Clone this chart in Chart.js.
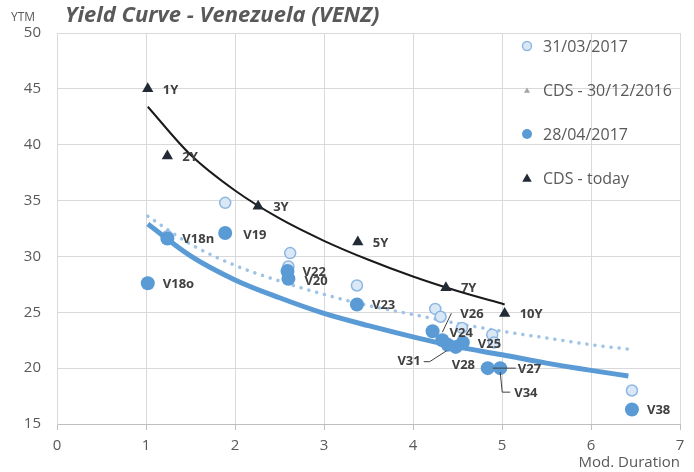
<!DOCTYPE html>
<html>
<head>
<meta charset="utf-8">
<title>Yield Curve - Venezuela (VENZ)</title>
<script src="https://cdn.jsdelivr.net/npm/chart.js@4.4.1/dist/chart.umd.min.js"></script>
<style>
    html, body { margin: 0; padding: 0; background: #fff; }
    #wrap { width: 694px; height: 472px; }
</style>
</head>
<body>
<div id="wrap"><canvas id="yieldChart" width="694" height="472"></canvas></div>
<script>
// Axis ranges / ticks
const xTicks = [0, 1, 2, 3, 4, 5, 6, 7];
const yTicks = [15, 20, 25, 30, 35, 40, 45, 50];

// CDS - today
const cdsTenors = ['1Y', '2Y', '3Y', '5Y', '7Y', '10Y'];
const cdsTodayDur = [1.02, 1.24, 2.26, 3.38, 4.37, 5.03];
const cdsTodayYtm = [45.0, 39.0, 34.5, 31.3, 27.2, 24.9];

// CDS - 30/12/2016 (sits under today's markers)
const cdsOldDur = [1.02, 1.24, 2.26, 3.38, 4.37, 5.03];
const cdsOldYtm = [45.0, 39.0, 34.5, 31.3, 27.2, 24.9];

// Bonds 31/03/2017
const bondsMarDur = [1.24, 1.89, 2.62, 2.60, 3.37, 4.25, 4.31, 4.55, 4.89, 4.91, 6.46];
const bondsMarYtm = [31.8, 34.8, 30.3, 29.1, 27.4, 25.3, 24.6, 23.6, 23.0, 22.3, 18.0];

// Bonds 28/04/2017
const bondNames = ['V18o', 'V18n', 'V19', 'V22', 'V20', 'V23', 'V24', 'V26', 'V31', 'V28', 'V25', 'V27', 'V34', 'V38'];
const bondsAprDur = [1.02, 1.24, 1.89, 2.59, 2.60, 3.37, 4.22, 4.33, 4.39, 4.48, 4.56, 4.84, 4.98, 6.46];
const bondsAprYtm = [27.6, 31.6, 32.1, 28.7, 28.0, 25.7, 23.3, 22.5, 22.1, 21.9, 22.3, 20.0, 20.0, 16.3];

// Trend lines
const cdsTrendDur = [1.02, 1.5, 2, 2.5, 3, 3.5, 4, 4.5, 5.03];
const cdsTrendYtm = [43.4, 39.1, 35.9, 33.4, 31.4, 29.7, 28.2, 26.9, 25.7];
const bondTrendDur = [1.02, 1.5, 2, 2.5, 3, 3.5, 4, 4.5, 5, 5.5, 6, 6.42];
const aprTrendYtm = [32.9, 30.05, 27.9, 26.3, 24.9, 23.8, 22.8, 21.9, 21.2, 20.45, 19.8, 19.3];
const marTrendYtm = [33.6, 31.1, 29.2, 27.8, 26.6, 25.6, 24.8, 24.0, 23.3, 22.7, 22.1, 21.7];

const toPoints = (xs, ys) => xs.map((x, i) => ({ x: x, y: ys[i] }));

const COLORS = {
    text: '#595959',
    label: '#404040',
    grid: '#d9d9d9',
    axis: '#bfbfbf',
    blue: '#5B9BD5',
    lightFill: '#DAE8F6',
    lightBorder: '#8DB7E2',
    dots: '#9DC3E6',
    dark: '#222B35',
    gray: '#A5A5A5'
};
const FONT = '"Open Sans", "Noto Sans", sans-serif';

// label placement next to each point (offsets in px, optional leader line)
const labelPlacement = {
    V19:  { dx: 18, dy: 2 },
    V20:  { dx: 16, dy: 3 },
    V24:  { dx: 17, dy: 2 },
    V26:  { dx: 18, dy: -26, leader: [[0, -8], [9, -27]] },
    V31:  { dx: -27, dy: 17, align: 'right', leader: [[-1, 6], [-18, 17], [-24, 17]] },
    V28:  { dx: -4, dy: 18 },
    V25:  { dx: 15, dy: 2 },
    V27:  { dx: 30, dy: 1, leader: [[5, 0], [28, 0]] },
    V34:  { dx: 14, dy: 25, leader: [[0, 4], [2, 24], [10, 24]] }
};
const defaultPlacement = { dx: 15, dy: 1 };

const labelSets = [
    { names: cdsTenors, dur: cdsTodayDur, ytm: cdsTodayYtm },
    { names: bondNames, dur: bondsAprDur, ytm: bondsAprYtm }
];

const legendItems = [
    { text: '31/03/2017', marker: 'hollow' },
    { text: 'CDS - 30/12/2016', marker: 'smallTri' },
    { text: '28/04/2017', marker: 'dot' },
    { text: 'CDS - today', marker: 'tri' }
];

function drawTriangle(ctx, x, y, r) {
    ctx.beginPath();
    for (let k = 0; k < 3; k++) {
        const a = k * 2 * Math.PI / 3;
        const px = x + Math.sin(a) * r;
        const py = y - Math.cos(a) * r;
        if (k === 0) ctx.moveTo(px, py); else ctx.lineTo(px, py);
    }
    ctx.closePath();
    ctx.fill();
}

const annotatePlugin = {
    id: 'annotate',
    afterDatasetsDraw(chart) {
        const ctx = chart.ctx;
        const xs = chart.scales.x;
        const ys = chart.scales.y;
        ctx.save();
        ctx.font = 'bold 13px ' + FONT;
        ctx.fillStyle = COLORS.label;
        ctx.strokeStyle = COLORS.label;
        ctx.lineWidth = 1;
        ctx.textBaseline = 'middle';
        labelSets.forEach(set => {
            set.names.forEach((name, i) => {
                const px = xs.getPixelForValue(set.dur[i]);
                const py = ys.getPixelForValue(set.ytm[i]);
                const p = labelPlacement[name] || defaultPlacement;
                if (p.leader) {
                    ctx.beginPath();
                    p.leader.forEach(([dx, dy], k) => {
                        if (k === 0) ctx.moveTo(px + dx, py + dy);
                        else ctx.lineTo(px + dx, py + dy);
                    });
                    ctx.stroke();
                }
                ctx.textAlign = p.align || 'left';
                ctx.fillText(name, px + p.dx, py + p.dy);
            });
        });
        ctx.restore();
    },
    afterDraw(chart) {
        const ctx = chart.ctx;
        ctx.save();
        ctx.textBaseline = 'middle';
        ctx.textAlign = 'left';

        // title + y unit
        ctx.fillStyle = COLORS.text;
        ctx.font = 'italic bold 22px ' + FONT;
        ctx.fillText('Yield Curve - Venezuela (VENZ)', 65, 16);
        ctx.font = '12px ' + FONT;
        ctx.fillText('YTM', 11, 18);

        // legend inside the plot
        ctx.font = '16px ' + FONT;
        legendItems.forEach((item, i) => {
            const y = 46 + i * 44;
            const mx = 527;
            if (item.marker === 'hollow') {
                ctx.beginPath();
                ctx.arc(mx, y, 4.5, 0, Math.PI * 2);
                ctx.fillStyle = COLORS.lightFill;
                ctx.fill();
                ctx.lineWidth = 1.5;
                ctx.strokeStyle = COLORS.lightBorder;
                ctx.stroke();
            } else if (item.marker === 'smallTri') {
                ctx.fillStyle = COLORS.gray;
                drawTriangle(ctx, mx, y + 1, 3.5);
            } else if (item.marker === 'dot') {
                ctx.beginPath();
                ctx.arc(mx, y, 5, 0, Math.PI * 2);
                ctx.fillStyle = COLORS.blue;
                ctx.fill();
            } else {
                ctx.fillStyle = COLORS.dark;
                drawTriangle(ctx, mx, y + 1, 5.5);
            }
            ctx.fillStyle = COLORS.text;
            ctx.fillText(item.text, 543, y + 1);
        });
        ctx.restore();
    }
};

const ctx = document.getElementById('yieldChart').getContext('2d');

const config = {
    type: 'scatter',
    data: {
        datasets: [
            {
                label: 'CDS - today',
                data: toPoints(cdsTodayDur, cdsTodayYtm),
                pointStyle: 'triangle',
                pointRadius: 6.5,
                backgroundColor: COLORS.dark,
                borderColor: COLORS.dark,
                borderWidth: 0,
                order: 1
            },
            {
                label: 'CDS trend',
                type: 'line',
                data: toPoints(cdsTrendDur, cdsTrendYtm),
                borderColor: '#1a1a1a',
                borderWidth: 2,
                pointRadius: 0,
                cubicInterpolationMode: 'monotone',
                fill: false,
                order: 2
            },
            {
                label: '28/04/2017',
                data: toPoints(bondsAprDur, bondsAprYtm),
                pointStyle: 'circle',
                pointRadius: 7,
                backgroundColor: COLORS.blue,
                borderColor: COLORS.blue,
                borderWidth: 0,
                order: 3
            },
            {
                label: '28/04 trend',
                type: 'line',
                data: toPoints(bondTrendDur, aprTrendYtm),
                borderColor: COLORS.blue,
                borderWidth: 5,
                pointRadius: 0,
                cubicInterpolationMode: 'monotone',
                fill: false,
                order: 4
            },
            {
                label: '31/03/2017',
                data: toPoints(bondsMarDur, bondsMarYtm),
                pointStyle: 'circle',
                pointRadius: 5.5,
                backgroundColor: COLORS.lightFill,
                borderColor: COLORS.lightBorder,
                borderWidth: 1.5,
                order: 5
            },
            {
                label: '31/03 trend',
                type: 'line',
                data: toPoints(bondTrendDur, marTrendYtm),
                borderColor: COLORS.dots,
                borderWidth: 3.5,
                borderDash: [0.1, 8],
                borderCapStyle: 'round',
                pointRadius: 0,
                cubicInterpolationMode: 'monotone',
                fill: false,
                order: 6
            },
            {
                label: 'CDS - 30/12/2016',
                data: toPoints(cdsOldDur, cdsOldYtm),
                pointStyle: 'triangle',
                pointRadius: 3.5,
                backgroundColor: COLORS.gray,
                borderWidth: 0,
                order: 7
            }
        ]
    },
    options: {
        responsive: false,
        animation: false,
        layout: { padding: { top: 33, right: 14, bottom: 0, left: 0 } },
        plugins: {
            legend: { display: false },
            title: { display: false },
            tooltip: { enabled: false }
        },
        scales: {
            x: {
                type: 'linear',
                min: xTicks[0],
                max: xTicks[xTicks.length - 1],
                ticks: {
                    stepSize: 1,
                    color: COLORS.text,
                    font: { family: FONT, size: 15 },
                    padding: 7
                },
                grid: { color: COLORS.grid, tickColor: COLORS.axis, tickLength: 6 },
                border: { color: COLORS.axis },
                title: {
                    display: true,
                    text: 'Mod. Duration',
                    align: 'end',
                    color: COLORS.text,
                    font: { family: FONT, size: 15 },
                    padding: { top: 0, bottom: 0 }
                },
                afterFit: s => { s.height = 48; }
            },
            y: {
                type: 'linear',
                min: yTicks[0],
                max: yTicks[yTicks.length - 1],
                ticks: {
                    stepSize: 5,
                    color: COLORS.text,
                    font: { family: FONT, size: 15 },
                    padding: 16
                },
                grid: { color: COLORS.grid, drawTicks: false },
                border: { color: COLORS.grid },
                afterFit: s => { s.width = 57; }
            }
        }
    },
    plugins: [annotatePlugin]
};

const chart = new Chart(ctx, config);
</script>
</body>
</html>
